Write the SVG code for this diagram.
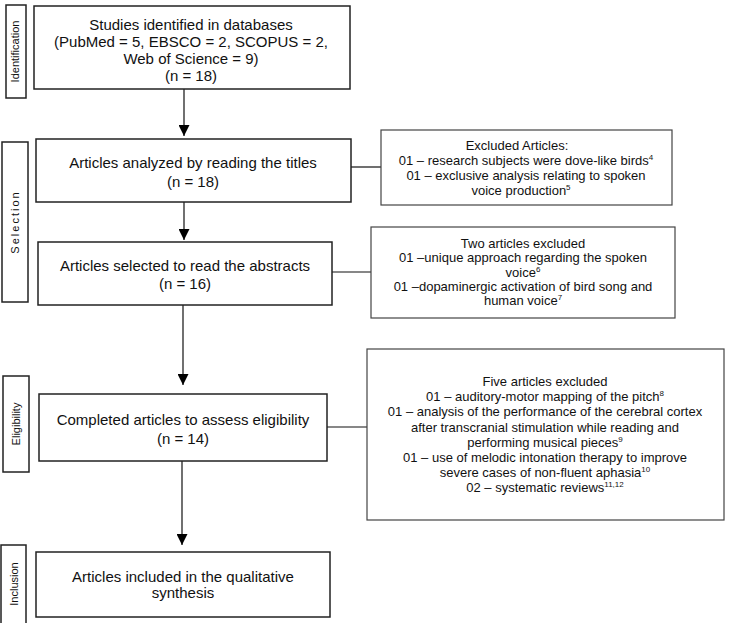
<svg xmlns="http://www.w3.org/2000/svg" width="730" height="623" viewBox="0 0 730 623">
<style>
text{font-family:"Liberation Sans",Arial,sans-serif;fill:#111}
.m{font-size:15px;text-anchor:middle}
.s{font-size:13px;text-anchor:middle}
.st{font-size:11px;text-anchor:middle}
.sup{font-size:8px}
.box{fill:#fff;stroke:#222;stroke-width:1.5}
.ex{fill:#fff;stroke:#444;stroke-width:1.2}
.lab{fill:#fff;stroke:#222;stroke-width:1.5}
.c{stroke:#111;stroke-width:1.2;fill:none}
</style>
<defs>
<marker id="ah" markerUnits="userSpaceOnUse" markerWidth="11" markerHeight="11" refX="11" refY="5.5" orient="auto">
<path d="M0,0 L11,5.5 L0,11 z" fill="#000"/>
</marker>
</defs>

<g id="stage-identification">
<rect class="lab" x="6" y="5" width="20" height="93"/>
<text class="st" transform="translate(19,51.5) rotate(-90)">Identification</text>
</g>
<g id="stage-selection">
<rect class="lab" x="2" y="142" width="26" height="160"/>
<text class="st" transform="translate(19,222) rotate(-90)" letter-spacing="2">Selection</text>
</g>
<g id="stage-eligibility">
<rect class="lab" x="3" y="376" width="26" height="96"/>
<text class="st" transform="translate(20,424) rotate(-90)">Eligibility</text>
</g>
<g id="stage-inclusion">
<rect class="lab" x="1" y="545" width="25" height="90"/>
<text class="st" transform="translate(18,584) rotate(-90)">Inclusion</text>
</g>

<g id="connectors">
<line class="c" x1="184" y1="89" x2="184" y2="136" marker-end="url(#ah)"/>
<line class="c" x1="184" y1="202" x2="184" y2="240" marker-end="url(#ah)"/>
<line class="c" x1="183" y1="305" x2="183" y2="385" marker-end="url(#ah)"/>
<line class="c" x1="182" y1="461" x2="182" y2="545" marker-end="url(#ah)"/>
<line class="c" x1="351" y1="167" x2="381" y2="167"/>
<line class="c" x1="332" y1="272" x2="371" y2="272"/>
<line class="c" x1="327" y1="427" x2="367" y2="427"/>
</g>

<g id="n1">
<rect class="box" x="34" y="6" width="316" height="83"/>
<text class="m" x="191" y="30">Studies identified in databases</text>
<text class="m" x="191" y="47">(PubMed = 5, EBSCO = 2, SCOPUS = 2,</text>
<text class="m" x="191" y="64">Web of Science = 9)</text>
<text class="m" x="191" y="81">(n = 18)</text>
</g>

<g id="n2">
<rect class="box" x="36" y="139" width="315" height="63"/>
<text class="m" x="193" y="168">Articles analyzed by reading the titles</text>
<text class="m" x="193" y="187">(n = 18)</text>
</g>

<g id="n3">
<rect class="box" x="38" y="242" width="294" height="63"/>
<text class="m" x="185" y="271">Articles selected to read the abstracts</text>
<text class="m" x="185" y="289">(n = 16)</text>
</g>

<g id="n4">
<rect class="box" x="39" y="394" width="288" height="67"/>
<text class="m" x="183" y="425">Completed articles to assess eligibility</text>
<text class="m" x="183" y="444">(n = 14)</text>
</g>

<g id="n5">
<rect class="box" x="36" y="552" width="294" height="65"/>
<text class="m" x="183" y="582">Articles included in the qualitative</text>
<text class="m" x="183" y="598">synthesis</text>
</g>

<g id="ex1">
<rect class="ex" x="381" y="130" width="291" height="75"/>
<text class="s" x="517" y="150">Excluded Articles:</text>
<text class="s" x="526" y="165">01 – research subjects were dove-like birds<tspan class="sup" dy="-5">4</tspan></text>
<text class="s" x="526" y="180">01 – exclusive analysis relating to spoken</text>
<text class="s" x="521" y="195">voice production<tspan class="sup" dy="-5">5</tspan></text>
</g>

<g id="ex2">
<rect class="ex" x="371" y="227" width="304" height="91"/>
<text class="s" x="523" y="248">Two articles excluded</text>
<text class="s" x="523" y="262">01 –unique approach regarding the spoken</text>
<text class="s" x="523" y="277">voice<tspan class="sup" dy="-5">6</tspan></text>
<text class="s" x="523" y="291">01 –dopaminergic activation of bird song and</text>
<text class="s" x="523" y="305">human voice<tspan class="sup" dy="-5">7</tspan></text>
</g>

<g id="ex3">
<rect class="ex" x="367" y="349" width="357" height="171"/>
<text class="s" x="545" y="386">Five articles excluded</text>
<text class="s" x="545" y="401">01 – auditory-motor mapping of the pitch<tspan class="sup" dy="-5">8</tspan></text>
<text class="s" x="545" y="416">01 – analysis of the performance of the cerebral cortex</text>
<text class="s" x="545" y="431.5">after transcranial stimulation while reading and</text>
<text class="s" x="545" y="447">performing musical pieces<tspan class="sup" dy="-5">9</tspan></text>
<text class="s" x="545" y="462">01 – use of melodic intonation therapy to improve</text>
<text class="s" x="545" y="477">severe cases of non-fluent aphasia<tspan class="sup" dy="-5">10</tspan></text>
<text class="s" x="545" y="492">02 – systematic reviews<tspan class="sup" dy="-5">11,12</tspan></text>
</g>
</svg>
